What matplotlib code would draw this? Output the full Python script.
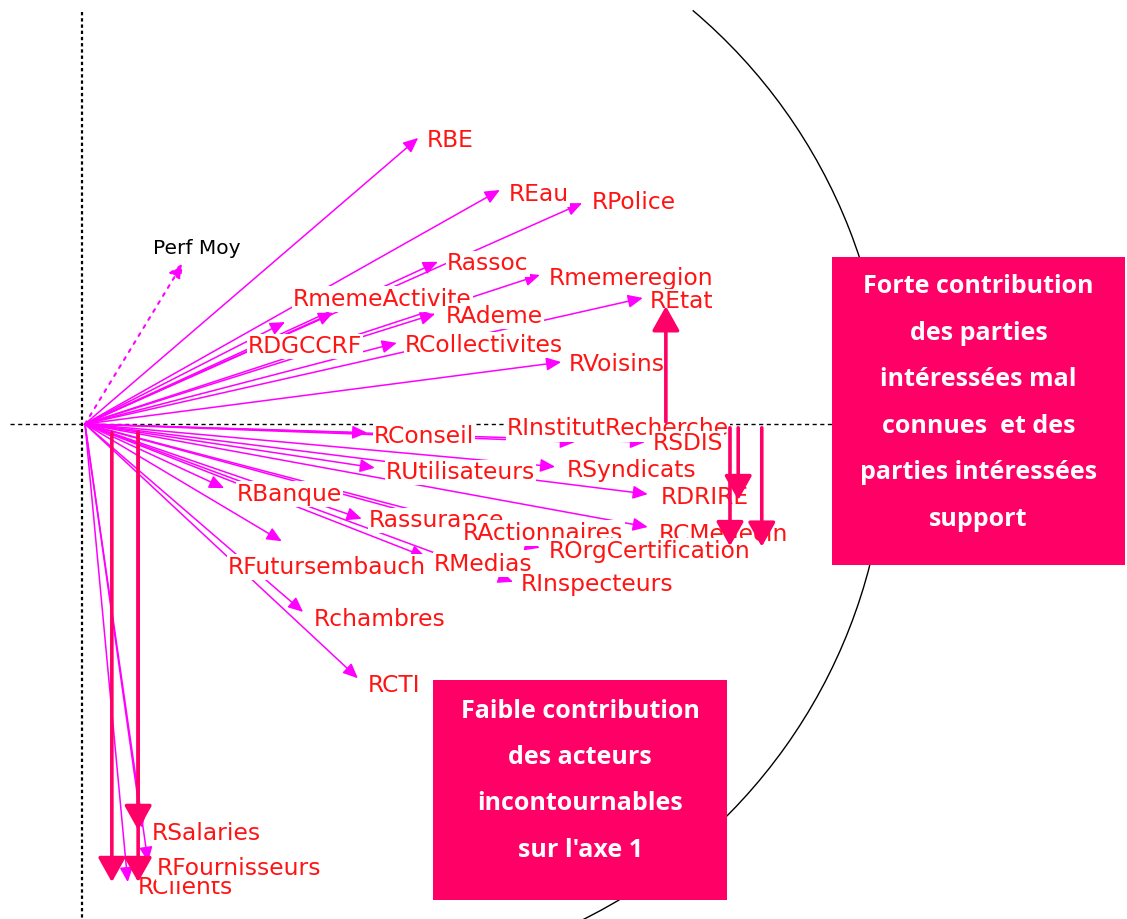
import matplotlib.pyplot as plt
from matplotlib.patches import Arc, Rectangle

# variable coordinates on the factor plane (axis 1, axis 2)
names = ['RBE', 'REau', 'RPolice', 'Rassoc', 'Rmemeregion', 'REtat',
         'RmemeActivite', 'RAdeme', 'RDGCCRF', 'RCollectivites', 'RVoisins',
         'RConseil', 'RInstitutRecherche', 'RSDIS', 'RUtilisateurs',
         'RSyndicats', 'RDRIRE', 'RBanque', 'Rassurance', 'RActionnaires',
         'RCMedecin', 'ROrgCertification', 'RMedias', 'RInspecteurs',
         'RFutursembauch', 'Rchambres', 'RCTI', 'RSalaries', 'RClients',
         'RFournisseurs']
vx = [0.608, 0.757, 0.907, 0.644, 0.830, 1.018,
      0.453, 0.639, 0.365, 0.569, 0.869,
      0.515, 0.894, 1.022, 0.529,
      0.858, 1.027, 0.254, 0.505, 0.675,
      1.027, 0.830, 0.622, 0.781,
      0.359, 0.398, 0.498, 0.104, 0.078,
      0.115]
vy = [0.522, 0.427, 0.403, 0.296, 0.272, 0.230,
      0.203, 0.201, 0.186, 0.148, 0.113,
      -0.016, -0.033, -0.033, -0.080,
      -0.078, -0.128, -0.117, -0.173, -0.177,
      -0.188, -0.226, -0.243, -0.288,
      -0.214, -0.343, -0.464, -0.737, -0.836,
      -0.799]
# label anchor points
lab_x = [0.624, 0.774, 0.925, 0.661, 0.847, 1.031,
         0.380, 0.659, 0.297, 0.584, 0.883,
         0.527, 0.770, 1.036, 0.549,
         0.880, 1.051, 0.277, 0.518, 0.690,
         1.047, 0.847, 0.637, 0.796,
         0.261, 0.418, 0.516, 0.122, 0.096,
         0.131]
lab_y = [0.518, 0.419, 0.405, 0.292, 0.266, 0.224,
         0.228, 0.197, 0.142, 0.144, 0.109,
         -0.022, -0.009, -0.035, -0.088,
         -0.084, -0.134, -0.128, -0.176, -0.199,
         -0.201, -0.232, -0.256, -0.292,
         -0.261, -0.356, -0.477, -0.747, -0.845,
         -0.811]

# illustrative variable (dotted)
perf_x, perf_y = 0.179, 0.294
perf_lab = (0.124, 0.320)

# highlight arrows (x, y start, y end)
hl_x = [0.049, 0.097, 0.097, 1.060, 1.192, 1.177, 1.235]
hl_y0 = [-0.015, -0.015, -0.015, 0.004, -0.007, -0.007, -0.007]
hl_y1 = [-0.836, -0.836, -0.741, 0.215, -0.139, -0.223, -0.224]

# comment boxes
box1 = ['Forte contribution', 'des parties', 'intéressées mal',
        'connues  et des', 'parties intéressées', 'support']
box2 = ['Faible contribution', 'des acteurs', 'incontournables', "sur l'axe 1"]

MAG = '#ff00ff'
RED = '#ff1414'
PINK = '#ff0066'

fig = plt.figure(figsize=(11.27, 9.19), dpi=100)
ax = fig.add_axes([0, 0, 1, 1])
ax.set_xlim(-0.1551, 1.9015)
ax.set_ylim(-0.9033, 0.7737)
ax.axis('off')

# axes of the plane
ax.plot([-0.137, 1.363], [0, 0], color='black', lw=1, dashes=(3, 2.5), zorder=1)
ax.plot([-0.0055, -0.0055], [0.752, -0.91], color='black', lw=1.6,
        dashes=(1.5, 1.3), zorder=1)

# correlation circle (visible right part only)
ax.add_patch(Arc((0.4635, -0.009), 2.0, 2.0, theta1=-64, theta2=49.8,
                 ec='black', lw=1, zorder=1))

# variable arrows
for x, y in zip(vx, vy):
    ax.annotate('', xy=(x, y), xytext=(0, 0), zorder=2,
                arrowprops=dict(arrowstyle='-|>,head_length=0.9,head_width=0.4',
                                color=MAG, lw=1.1, shrinkA=0, shrinkB=0,
                                mutation_scale=10))
ax.annotate('', xy=(perf_x, perf_y), xytext=(0, 0), zorder=2,
            arrowprops=dict(arrowstyle='-|>,head_length=0.9,head_width=0.4',
                            color=MAG, lw=1.5, ls=(0, (1.5, 3)), shrinkA=0,
                            shrinkB=0, mutation_scale=10))
ax.text(perf_lab[0], perf_lab[1], 'Perf Moy', fontsize=14.5, color='black',
        family='DejaVu Sans', ha='left', va='center', zorder=3)

# labels
for n, lx, ly in zip(names, lab_x, lab_y):
    ax.text(lx, ly, n, fontsize=16.8, color=RED, family='DejaVu Sans',
            ha='left', va='center', zorder=3,
            bbox=dict(facecolor='white', edgecolor='none', pad=0.8))

# highlight arrows
for x, y0, y1 in zip(hl_x, hl_y0, hl_y1):
    ax.annotate('', xy=(x, y1), xytext=(x, y0), zorder=4,
                arrowprops=dict(arrowstyle='-|>,head_length=0.75,head_width=0.42',
                                color=PINK, lw=2.6, shrinkA=0, shrinkB=0,
                                mutation_scale=20))

# boxes
ax.add_patch(Rectangle((1.363, -0.257), 0.535, 0.562, fc=PINK, ec='none', zorder=5))
ax.add_patch(Rectangle((0.635, -0.869), 0.537, 0.402, fc=PINK, ec='none', zorder=5))
for i, line in enumerate(box1):
    ax.text(1.6305, 0.250 - i * 0.0847, line, color='white', fontsize=18,
            family='Open Sans', fontweight='bold', ha='center', va='center',
            zorder=6)
for i, line in enumerate(box2):
    ax.text(0.9035, -0.524 - i * 0.0845, line, color='white', fontsize=18,
            family='Open Sans', fontweight='bold', ha='center', va='center',
            zorder=6)

plt.savefig('out.png', dpi=100)
